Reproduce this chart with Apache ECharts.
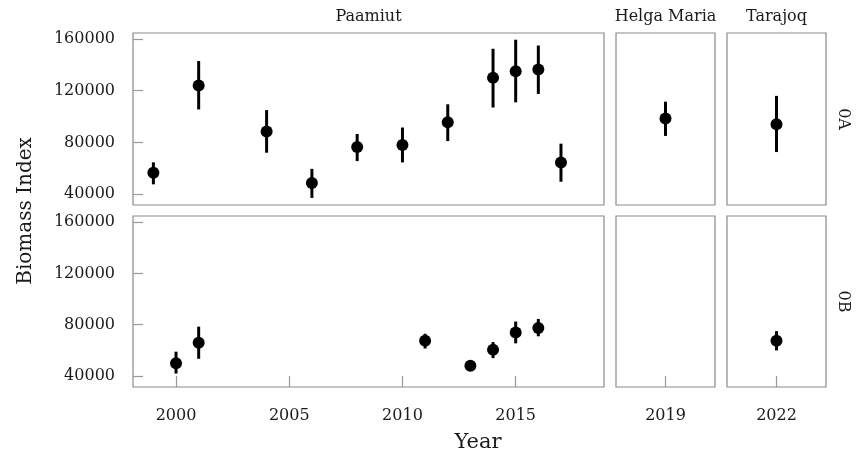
<!DOCTYPE html>
<html>
<head>
<meta charset="utf-8">
<script src="https://cdn.jsdelivr.net/npm/echarts@6/dist/echarts.min.js"></script>
<style>html,body{margin:0;padding:0;background:#fff}#c{width:859px;height:461px}</style>
</head>
<body>
<div id="c"></div>
<script>
// ---- data ----
var vessels = ['Paamiut', 'Helga Maria', 'Tarajoq'];
var areas = ['0A', '0B'];
var yTicks = [40000, 80000, 120000, 160000];
var xTicksPaamiut = [2000, 2005, 2010, 2015];
var xTicksHelga = [2019];
var xTicksTarajoq = [2022];

var paamiut0A_year = [1999, 2001, 2004, 2006, 2008, 2010, 2012, 2014, 2015, 2016, 2017];
var paamiut0A_mean = [56500, 124000, 88500, 48500, 76500, 78000, 95500, 130000, 135000, 136500, 64500];
var paamiut0A_lo   = [47500, 105500, 72000, 37000, 65500, 64500, 81000, 107000, 111000, 117500, 49500];
var paamiut0A_hi   = [64500, 143000, 105000, 59500, 86500, 91500, 109500, 152500, 159500, 155000, 79000];

var helga0A_year = [2019];
var helga0A_mean = [98500];
var helga0A_lo   = [85000];
var helga0A_hi   = [111500];

var tarajoq0A_year = [2022];
var tarajoq0A_mean = [94000];
var tarajoq0A_lo   = [72500];
var tarajoq0A_hi   = [116000];

var paamiut0B_year = [2000, 2001, 2011, 2013, 2014, 2015, 2016];
var paamiut0B_mean = [50000, 66000, 67500, 48000, 60500, 74000, 77500];
var paamiut0B_lo   = [42000, 53500, 61500, 44000, 54000, 65500, 71000];
var paamiut0B_hi   = [59000, 78500, 73000, 51500, 66500, 82500, 84500];

var helga0B_year = [];
var helga0B_mean = [];
var helga0B_lo   = [];
var helga0B_hi   = [];

var tarajoq0B_year = [2022];
var tarajoq0B_mean = [67500];
var tarajoq0B_lo   = [60000];
var tarajoq0B_hi   = [75000];

// ---- layout ----
var FONT = 'DejaVu Serif';
var TXT = '#1a1a1a';
var cols = [
  {left: 133, width: 471, min: 1998.1, max: 2018.9, ticks: xTicksPaamiut},
  {left: 616, width: 99, min: 2018.5, max: 2019.5, ticks: xTicksHelga},
  {left: 727, width: 99, min: 2021.5, max: 2022.5, ticks: xTicksTarajoq}
];
var rows = [{top: 33, height: 172}, {top: 216, height: 171}];
var panelData = [
  [[paamiut0A_year, paamiut0A_mean, paamiut0A_lo, paamiut0A_hi],
   [helga0A_year, helga0A_mean, helga0A_lo, helga0A_hi],
   [tarajoq0A_year, tarajoq0A_mean, tarajoq0A_lo, tarajoq0A_hi]],
  [[paamiut0B_year, paamiut0B_mean, paamiut0B_lo, paamiut0B_hi],
   [helga0B_year, helga0B_mean, helga0B_lo, helga0B_hi],
   [tarajoq0B_year, tarajoq0B_mean, tarajoq0B_lo, tarajoq0B_hi]]
];

var grids = [], xAxes = [], yAxes = [], series = [];
var idx = 0;
rows.forEach(function (r, ri) {
  cols.forEach(function (c, ci) {
    grids.push({left: c.left, top: r.top, width: c.width, height: r.height,
      show: true, borderColor: '#8a8a8a', borderWidth: 1.2, backgroundColor: 'transparent'});
    var bottomRow = ri === 1;
    xAxes.push({type: 'value', gridIndex: idx, min: c.min, max: c.max,
      axisLine: {show: false}, splitLine: {show: false},
      axisTick: {show: bottomRow, inside: true, length: 11, customValues: c.ticks,
        lineStyle: {color: '#999', width: 1.2}},
      axisLabel: {show: bottomRow, customValues: c.ticks, margin: 21,
        fontFamily: FONT, fontSize: 16, color: TXT, formatter: function (v) { return String(v); }}
    });
    var leftCol = ci === 0;
    yAxes.push({type: 'value', gridIndex: idx, min: 31500, max: 164700,
      axisLine: {show: false}, splitLine: {show: false},
      axisTick: {show: leftCol, inside: true, length: 10, customValues: yTicks,
        lineStyle: {color: '#999', width: 1.2}},
      axisLabel: {show: leftCol, customValues: yTicks, margin: 18,
        fontFamily: FONT, fontSize: 16, color: TXT, formatter: function (v) { return String(v); }}
    });
    var d = panelData[ri][ci];
    var errData = d[0].map(function (y, i) { return [y, d[2][i], d[3][i]]; });
    var ptData = d[0].map(function (y, i) { return [y, d[1][i]]; });
    series.push({type: 'custom', xAxisIndex: idx, yAxisIndex: idx, z: 2,
      data: errData,
      renderItem: function (params, api) {
        var p1 = api.coord([api.value(0), api.value(1)]);
        var p2 = api.coord([api.value(0), api.value(2)]);
        return {type: 'line', shape: {x1: p1[0], y1: p1[1], x2: p2[0], y2: p2[1]},
          style: {stroke: '#000', lineWidth: 3}};
      }
    });
    series.push({type: 'scatter', xAxisIndex: idx, yAxisIndex: idx, z: 3,
      data: ptData, symbol: 'circle', symbolSize: 12,
      itemStyle: {color: '#000', opacity: 1}});
    idx++;
  });
});

var graphics = [];
vessels.forEach(function (v, i) {
  graphics.push({type: 'text', x: cols[i].left + cols[i].width / 2, y: 17,
    style: {text: v, fontFamily: FONT, fontSize: 16, fill: TXT, textAlign: 'center', textVerticalAlign: 'middle'}});
});
areas.forEach(function (a, i) {
  graphics.push({type: 'text', x: 843, y: rows[i].top + rows[i].height / 2, rotation: -Math.PI / 2,
    style: {text: a, fontFamily: FONT, fontSize: 16, fill: TXT, textAlign: 'center', textVerticalAlign: 'middle'}});
});
graphics.push({type: 'text', x: 26, y: 211, rotation: Math.PI / 2,
  style: {text: 'Biomass Index', fontFamily: FONT, fontSize: 20, fill: TXT, textAlign: 'center', textVerticalAlign: 'middle'}});
graphics.push({type: 'text', x: 478, y: 443,
  style: {text: 'Year', fontFamily: FONT, fontSize: 21, fill: TXT, textAlign: 'center', textVerticalAlign: 'middle'}});

var chart = echarts.init(document.getElementById('c'), null, {renderer: 'canvas'});
chart.setOption({
  animation: false,
  backgroundColor: '#fff',
  grid: grids, xAxis: xAxes, yAxis: yAxes, series: series, graphic: graphics
});
</script>
</body>
</html>
